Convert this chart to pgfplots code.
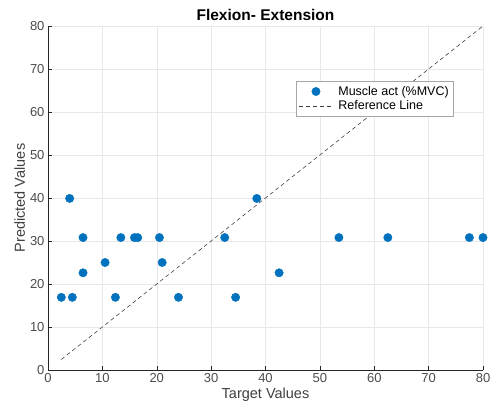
\documentclass[border=0pt]{standalone}
\usepackage{fontspec}
\setmainfont{Liberation Sans}
\usepackage{pgfplots}
\pgfplotsset{compat=1.18}
\definecolor{mblue}{rgb}{0,0.447,0.741}
\definecolor{axgray}{rgb}{0.15,0.15,0.15}
\pgfplotsset{
    marklegend/.style={legend image code/.code={%
        \draw[mark repeat=2, mark phase=2, ##1] plot coordinates {(0cm,0cm) (0.6cm,0cm) (1.2cm,0cm)};}},
    linelegend/.style={legend image code/.code={%
        \draw[##1] (0cm,0cm) -- (1.2cm,0cm);}},
}
\begin{document}
\begin{tikzpicture}
\useasboundingbox (-48pt,-47pt) rectangle (444pt,370pt);
\begin{axis}[
    at={(0,0)}, anchor=south west,
    scale only axis,
    width=435pt, height=344pt,
    xmin=0, xmax=80, ymin=0, ymax=80,
    xtick={0,10,...,80}, ytick={0,10,...,80},
    axis x line*=bottom, axis y line*=left,
    axis line style={axgray, line width=0.6pt, -},
    tick style={axgray, line width=0.5pt},
    tick align=inside,
    major tick length=4pt,
    grid=major,
    grid style={gray!18, line width=0.5pt},
    /pgf/number format/assume math mode=true,
    ticklabel style={font=\fontsize{13}{15}\selectfont, text=black!70},
    xlabel={Target Values}, ylabel={Predicted Values},
    label style={font=\fontsize{14.5}{17}\selectfont, text=black!75},
    xlabel style={yshift=2pt},
    ylabel style={yshift=-2pt},
    title={Flexion- Extension},
    title style={font=\bfseries\fontsize{15.5}{18}\selectfont, yshift=-4pt},
    legend style={at={(0.931,0.840)}, anchor=north east,
        font=\fontsize{12.5}{15}\selectfont, draw=gray!70, fill=white,
        row sep=0pt, column sep=3pt, inner ysep=3pt, inner xsep=2pt},
    legend cell align=left,
]
\addplot[only marks, mark=*, mark size=4.2pt, color=mblue, marklegend]
    coordinates {
    (2.45,16.9) (4.47,16.9) (3.98,39.9) (6.44,30.8) (6.44,22.6)
    (10.5,25.0) (12.4,16.9) (13.4,30.8) (15.9,30.8) (16.5,30.8)
    (20.5,30.8) (21.0,25.0) (24.0,16.9) (32.5,30.8) (34.5,16.9)
    (38.4,39.9) (42.5,22.6) (53.5,30.8) (62.5,30.8) (77.5,30.8)
    (80.0,30.8)
};
\addlegendentry{Muscle act (\%MVC)}
\addplot[dash pattern=on 4pt off 3pt, black!75, line width=0.6pt, linelegend]
    coordinates {(2.45,2.45) (80,80)};
\addlegendentry{Reference Line}
\end{axis}
\end{tikzpicture}
\end{document}
